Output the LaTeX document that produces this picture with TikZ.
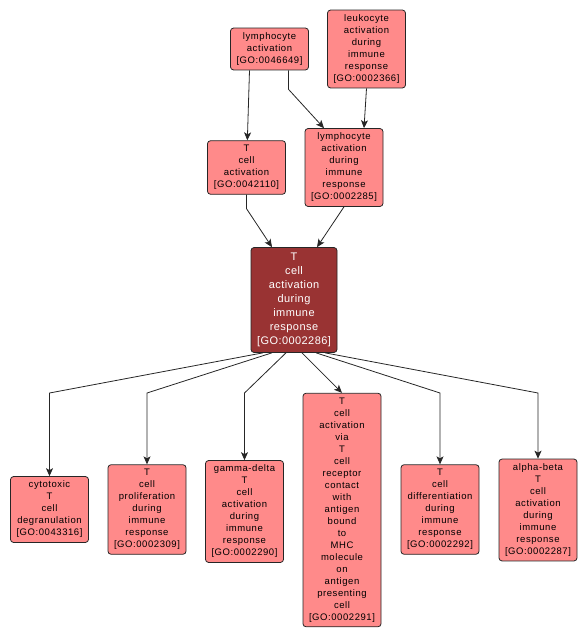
\documentclass[tikz,border=0pt]{standalone}
\usepackage{fontspec}
\usepackage{tikz}
\usetikzlibrary{arrows.meta}
\newfontfamily\gofont[LetterSpace=6]{Liberation Sans}
\newfontfamily\gofocusfont[LetterSpace=4]{Liberation Sans}
\definecolor{gopink}{RGB}{255,138,138}
\definecolor{godark}{RGB}{153,51,51}
\tikzset{
	goterm/.style={draw=black!85, fill=gopink, rounded corners=3pt, line width=0.8pt, align=center,
		minimum width=78pt, inner xsep=2pt, inner ysep=4.5pt, font=\gofont\fontsize{9.5}{12}\selectfont},
	gofocus/.style={goterm, fill=godark, text=white, minimum width=86pt, inner ysep=5.5pt,
		font=\gofocusfont\fontsize{11}{14}\selectfont},
	golink/.style={draw=black!85, line width=0.8pt, ->}
}
\begin{document}
\begin{tikzpicture}[x=1pt, y=-1pt, >={Stealth[length=8pt,width=7pt,inset=2pt]}]
				\useasboundingbox (0,0) rectangle (587,639);
				% parents
				\node[goterm] (la) at (269.5,49) {lymphocyte\\activation\\{[GO:0046649]}};
				\node[goterm] (leuk) at (366.5,49) {leukocyte\\activation\\during\\immune\\response\\{[GO:0002366]}};
				\node[goterm] (tca) at (246.5,167.5) {T\\cell\\activation\\{[GO:0042110]}};
				\node[goterm] (lad) at (344,167.5) {lymphocyte\\activation\\during\\immune\\response\\{[GO:0002285]}};
				\node[gofocus] (focus) at (294,300) {T\\cell\\activation\\during\\immune\\response\\{[GO:0002286]}};
				% children
				\node[goterm] (cyto) at (49.5,509.5) {cytotoxic\\T\\cell\\degranulation\\{[GO:0043316]}};
				\node[goterm] (prol) at (147,509.5) {T\\cell\\proliferation\\during\\immune\\response\\{[GO:0002309]}};
				\node[goterm] (gd) at (244.5,511.5) {gamma-delta\\T\\cell\\activation\\during\\immune\\response\\{[GO:0002290]}};
				\node[goterm] (via) at (342,510) {T\\cell\\activation\\via\\T\\cell\\receptor\\contact\\with\\antigen\\bound\\to\\MHC\\molecule\\on\\antigen\\presenting\\cell\\{[GO:0002291]}};
				\node[goterm] (diff) at (440,509.5) {T\\cell\\differentiation\\during\\immune\\response\\{[GO:0002292]}};
				\node[goterm] (ab) at (538,510) {alpha-beta\\T\\cell\\activation\\during\\immune\\response\\{[GO:0002287]}};
				% links
				\draw[golink] ([xshift=-20pt]la.south) -- (tca);
				\draw[golink] ([xshift=19pt]la.south) -- ++(0,19) -- ([xshift=-20pt]lad.north);
				\draw[golink] (leuk.south) -- ([xshift=20pt]lad.north);
				\draw[golink] (tca.south) -- ++(0,14) -- ([xshift=-22pt]focus.north);
				\draw[golink] (lad.south) -- ([xshift=23pt]focus.north);
				\draw[golink] ([xshift=-31pt]focus.south) -- (cyto.north |- 0,393) -- (cyto.north);
				\draw[golink] ([xshift=-22pt]focus.south) -- (prol.north |- 0,393) -- (prol.north);
				\draw[golink] ([xshift=-8pt]focus.south) -- (gd.north |- 0,393) -- (gd.north);
				\draw[golink] ([xshift=8pt]focus.south) -- (via.north);
				\draw[golink] ([xshift=22pt]focus.south) -- (diff.north |- 0,393) -- (diff.north);
				\draw[golink] ([xshift=31pt]focus.south) -- (ab.north |- 0,393) -- (ab.north);
			\end{tikzpicture}
\end{document}
